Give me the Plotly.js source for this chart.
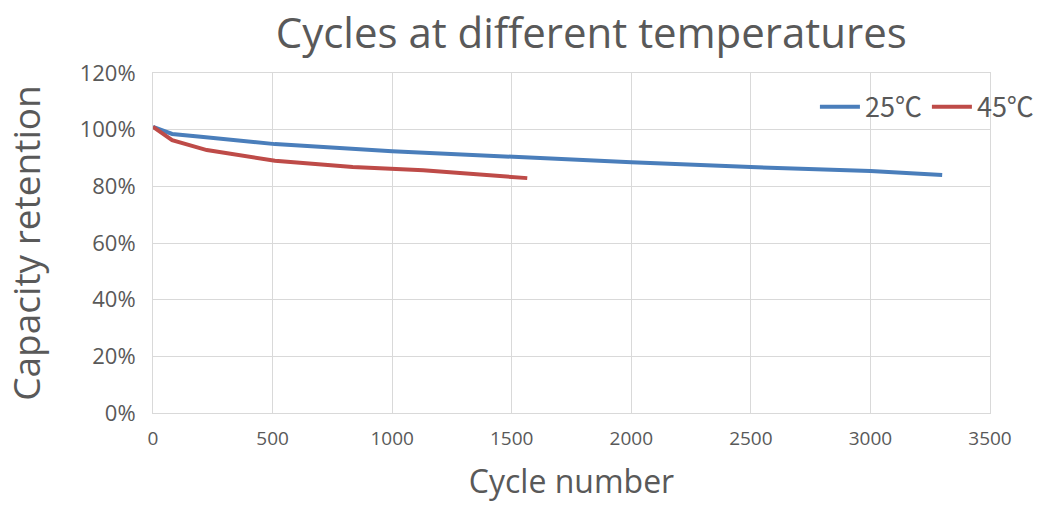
<!DOCTYPE html>
<html><head><meta charset="utf-8">
<script src="https://cdn.plot.ly/plotly-3.0.1.min.js"></script>
<style>html,body{margin:0;padding:0;background:#fff}#c{width:1041px;height:510px}</style>
</head><body><div id="c"></div>
<script>
const cycles25 = [0, 80, 200, 510, 1000, 1500, 2000, 2500, 3000, 3300];
const retention25 = [1.01, 0.985, 0.975, 0.949, 0.924, 0.903, 0.885, 0.868, 0.854, 0.840];
const cycles45 = [0, 80, 225, 510, 835, 1130, 1565];
const retention45 = [1.01, 0.963, 0.928, 0.89, 0.868, 0.857, 0.829];
const seriesNames = ['25℃', '45℃'];
const xTicks = [0, 500, 1000, 1500, 2000, 2500, 3000, 3500];
const yTicks = [0, 0.2, 0.4, 0.6, 0.8, 1.0, 1.2];

const font = '"Open Sans", "Noto Sans", sans-serif';
const traces = [
  {x: cycles25, y: retention25, name: seriesNames[0], mode: 'lines', line: {color: '#4a7ebb', width: 4}},
  {x: cycles45, y: retention45, name: seriesNames[1], mode: 'lines', line: {color: '#be4b48', width: 4}}
];
const layout = {
  width: 1041, height: 510,
  margin: {l: 153, r: 51, t: 73, b: 97, autoexpand: false},
  paper_bgcolor: '#fff', plot_bgcolor: '#fff',
  font: {family: font, color: '#595959'},
  title: {text: 'Cycles at different temperatures', font: {size: 42, color: '#595959', family: font},
          x: 0.568, xanchor: 'center', y: 0.935, yanchor: 'middle', xref: 'container', yref: 'container'},
  xaxis: {range: [0, 3500], tickvals: xTicks, ticktext: xTicks.map(String),
          showgrid: true, gridcolor: '#d9d9d9', gridwidth: 1, zeroline: false,
          showline: true, linecolor: '#d9d9d9', mirror: true, ticks: '', ticklabelstandoff: 8,
          tickfont: {size: 19, color: '#595959'},
          title: {text: 'Cycle number', font: {size: 32, color: '#595959'}, standoff: 20}},
  yaxis: {range: [0, 1.2], tickvals: yTicks, ticktext: yTicks.map(v => Math.round(v*100) + '%'),
          showgrid: true, gridcolor: '#d9d9d9', gridwidth: 1, zeroline: false,
          showline: true, linecolor: '#d9d9d9', mirror: true, ticks: '', ticklabelstandoff: 12,
          tickfont: {size: 22, color: '#595959'},
          title: {text: 'Capacity retention', font: {size: 37, color: '#595959'}, standoff: 30}},
  legend: {orientation: 'h', xref: 'container', yref: 'container', x: 0.998, xanchor: 'right',
           y: 0.79, yanchor: 'middle',
           bgcolor: 'rgba(0,0,0,0)', font: {size: 27, color: '#595959', family: '"Noto Sans CJK SC", "Open Sans", sans-serif'}, itemwidth: 40},
  showlegend: true
};
Plotly.newPlot('c', traces, layout, {displayModeBar: false, staticPlot: true});
</script></body></html>
